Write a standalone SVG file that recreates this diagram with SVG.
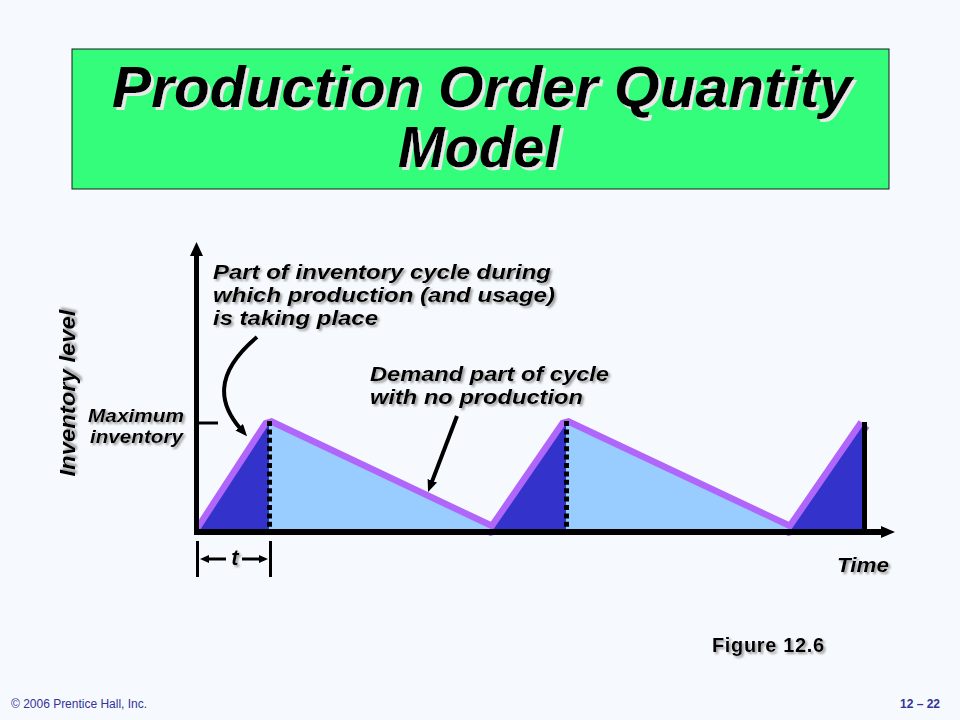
<svg xmlns="http://www.w3.org/2000/svg" width="960" height="720" viewBox="0 0 960 720">
<defs>
<style>
.t{font-family:"Liberation Sans",Arial,Helvetica,sans-serif;font-weight:bold;font-style:italic;fill:#000}
.lbl{font-size:21px;filter:url(#sh)}
.foot{font-family:"Liberation Sans",Arial,sans-serif;font-size:12px;fill:#333399}
.dot{stroke:#000;stroke-width:5;stroke-dasharray:5 3.4;fill:none}
.conn{stroke:#000;stroke-width:4;fill:none}
</style>
<filter id="sh" x="-10%" y="-20%" width="130%" height="150%">
<feDropShadow dx="2" dy="2" stdDeviation="0.8" flood-color="#888" flood-opacity="0.8"/>
</filter>
<filter id="tsh" x="-5%" y="-20%" width="110%" height="150%">
<feDropShadow dx="3" dy="3" stdDeviation="0.6" flood-color="#e8e8e8" flood-opacity="1"/>
</filter>
<marker id="ah" viewBox="0 0 3 2.5" refX="0.5" refY="1.25" markerWidth="3" markerHeight="2.5" orient="auto" markerUnits="strokeWidth">
<path d="M0,0 L3,1.25 L0,2.5 z" fill="#000"/>
</marker>
</defs>
<rect width="960" height="720" fill="#F6F9FD"/>

<g id="title">
<rect x="72" y="49" width="817" height="140" fill="#33FD7A" stroke="#1a1a1a" stroke-width="1"/>
<text class="t" x="482" y="107" font-size="57" text-anchor="middle" textLength="740" lengthAdjust="spacingAndGlyphs" filter="url(#tsh)">Production Order Quantity</text>
<text class="t" x="479" y="167" font-size="57" text-anchor="middle" textLength="162" lengthAdjust="spacingAndGlyphs" filter="url(#tsh)">Model</text>
</g>

<g id="inventory-curve">
<polyline points="200,530 269,424 493,530 566,424 791,530 864,424" fill="none" stroke="#B066FA" stroke-width="13" stroke-linejoin="bevel"/>
<polygon points="200,530 269,424 269,530" fill="#3333CC"/>
<polygon points="269,424 493,530 269,530" fill="#99CCFF"/>
<polygon points="493,530 566,424 566,530" fill="#3333CC"/>
<polygon points="566,424 791,530 566,530" fill="#99CCFF"/>
<polygon points="791,530 864,424 864,530" fill="#3333CC"/>
<line x1="269.5" y1="421" x2="269.5" y2="530" class="dot"/>
<line x1="566.5" y1="421" x2="566.5" y2="530" class="dot"/>
<line x1="864.5" y1="422" x2="864.5" y2="532" stroke="#000" stroke-width="5"/>
</g>

<g id="y-axis">
<line x1="196.5" y1="252" x2="196.5" y2="535" stroke="#000" stroke-width="5"/>
<polygon points="196.5,242 190,256 203,256" fill="#000"/>
<line x1="196" y1="423" x2="218" y2="423" stroke="#000" stroke-width="3"/>
<text class="t" font-size="22" text-anchor="middle" transform="translate(75,393) rotate(-90)" textLength="167" lengthAdjust="spacingAndGlyphs" filter="url(#sh)">Inventory level</text>
<text class="t lbl" x="88" y="422" style="font-size:19px" textLength="96" lengthAdjust="spacingAndGlyphs">Maximum</text>
<text class="t lbl" x="90" y="443" style="font-size:19px" textLength="93" lengthAdjust="spacingAndGlyphs">inventory</text>
</g>

<g id="x-axis">
<line x1="194" y1="532" x2="885" y2="532" stroke="#000" stroke-width="6"/>
<polygon points="895,532 881,526 881,538" fill="#000"/>
<text class="t lbl" x="837" y="572" style="font-size:20px" textLength="52" lengthAdjust="spacingAndGlyphs">Time</text>
</g>

<g id="t-marker">
<line x1="197.5" y1="541" x2="197.5" y2="577" stroke="#000" stroke-width="3"/>
<line x1="270.5" y1="541" x2="270.5" y2="577" stroke="#000" stroke-width="3"/>
<line x1="226" y1="559" x2="208" y2="559" stroke="#000" stroke-width="3"/>
<polygon points="200,559 209,555 209,563" fill="#000"/>
<line x1="242" y1="559" x2="260" y2="559" stroke="#000" stroke-width="3"/>
<polygon points="268,559 259,555 259,563" fill="#000"/>
<text class="t lbl" x="235" y="565" style="font-size:22px" text-anchor="middle">t</text>
</g>

<g id="label-production">
<text class="t lbl" x="213" y="279" textLength="338" lengthAdjust="spacingAndGlyphs">Part of inventory cycle during</text>
<text class="t lbl" x="213" y="302" textLength="342" lengthAdjust="spacingAndGlyphs">which production (and usage)</text>
<text class="t lbl" x="213" y="325" textLength="165" lengthAdjust="spacingAndGlyphs">is taking place</text>
</g>

<g id="label-demand">
<text class="t lbl" x="370" y="381" textLength="239" lengthAdjust="spacingAndGlyphs">Demand part of cycle</text>
<text class="t lbl" x="370" y="404" textLength="213" lengthAdjust="spacingAndGlyphs">with no production</text>
</g>

<g id="connectors">
<path class="conn" d="M257,337 C212,375 220,405 240.5,428.7" marker-end="url(#ah)"/>
<line class="conn" x1="457" y1="416" x2="431.6" y2="482.6" marker-end="url(#ah)"/>
</g>

<g id="caption">
<text x="712" y="652" font-family="'Liberation Sans',Arial,sans-serif" font-weight="bold" font-size="20" textLength="112" filter="url(#sh)">Figure 12.6</text>
</g>

<g id="footer">
<text class="foot" x="11" y="708" textLength="136">© 2006 Prentice Hall, Inc.</text>
<text class="foot" x="940" y="708" font-weight="bold" text-anchor="end">12 – 22</text>
</g>
</svg>
